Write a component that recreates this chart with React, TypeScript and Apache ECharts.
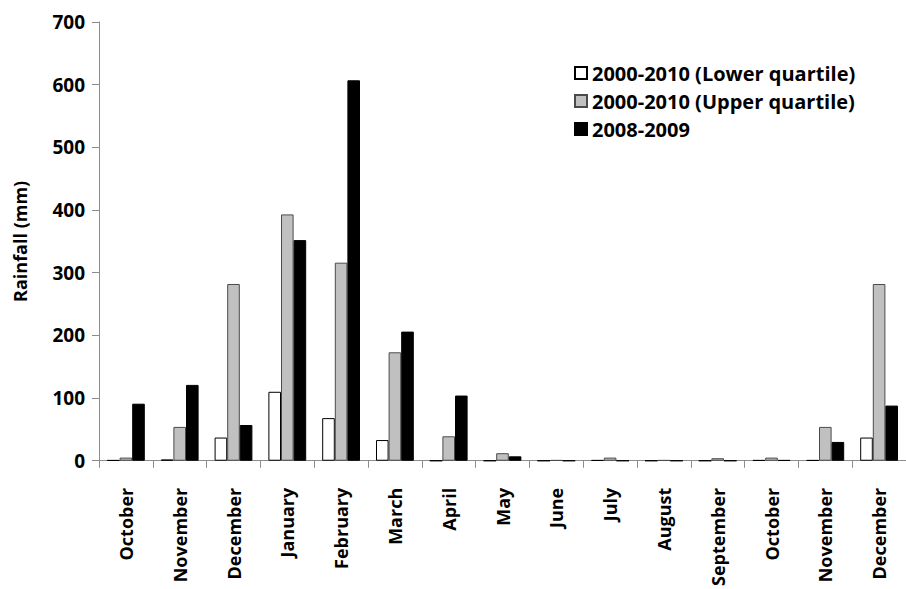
import React, { useEffect, useRef } from "react";
import * as echarts from "echarts";

const months = [
  "October", "November", "December", "January", "February", "March", "April",
  "May", "June", "July", "August", "September", "October", "November", "December",
];
const lowerQuartile = [1, 2, 37, 110, 68, 33, 0, 0, 0, 1, 0, 0, 1, 1, 37];
const upperQuartile = [5, 54, 282, 393, 316, 173, 39, 12, 1, 5, 1, 4, 5, 54, 282];
const season2008 = [91, 121, 57, 352, 607, 206, 104, 7, 0, 0, 0, 0, 1, 30, 88];
const seriesNames = [
  "2000-2010 (Lower quartile)",
  "2000-2010 (Upper quartile)",
  "2008-2009",
];
const yTicks = { min: 0, max: 700, interval: 100 };

const FONT = "'Open Sans', 'DejaVu Sans', sans-serif";

export default function App() {
  const ref = useRef<HTMLDivElement>(null);
  useEffect(() => {
    if (!ref.current) return;
    const chart = echarts.init(ref.current, undefined, { renderer: "svg" });
    const mk = (name: string, data: number[], color: string, border: string) => ({
      name,
      type: "bar",
      data,
      barWidth: 12.6,
      barGap: "0%",
      itemStyle: { color, borderColor: border, borderWidth: 1 },
    });
    chart.setOption({
      animation: false,
      backgroundColor: "#ffffff",
      grid: { left: 99, right: -9, top: 22, bottom: 122, containLabel: false },
      legend: {
        orient: "vertical",
        left: 569,
        top: 58,
        itemWidth: 12,
        itemHeight: 12,
        itemGap: 8,
        icon: "rect",
        textStyle: { fontFamily: FONT, fontWeight: "bold", fontSize: 20, color: "#000" },
        data: seriesNames,
      },
      xAxis: {
        type: "category",
        data: months,
        axisLine: { lineStyle: { color: "#8c8c8c", width: 1 } },
        axisTick: { show: true, length: 7, lineStyle: { color: "#8c8c8c" } },
        axisLabel: {
          interval: 0,
          rotate: 90,
          margin: 27,
          fontFamily: FONT,
          fontWeight: "bold",
          fontSize: 18,
          color: "#000",
        },
      },
      yAxis: {
        type: "value",
        min: yTicks.min,
        max: yTicks.max,
        interval: yTicks.interval,
        name: "Rainfall (mm)",
        nameLocation: "middle",
        nameGap: 70,
        nameTextStyle: { fontFamily: FONT, fontWeight: "bold", fontSize: 18, color: "#000" },
        splitLine: { show: false },
        axisLine: { show: true, lineStyle: { color: "#8c8c8c", width: 1 } },
        axisTick: { show: true, length: 7, lineStyle: { color: "#8c8c8c" } },
        axisLabel: {
          margin: 14,
          fontFamily: FONT,
          fontWeight: "bold",
          fontSize: 19,
          color: "#000",
        },
      },
      series: [
        mk(seriesNames[0], lowerQuartile, "#ffffff", "#000000"),
        mk(seriesNames[1], upperQuartile, "#c0c0c0", "#4a4a4a"),
        mk(seriesNames[2], season2008, "#000000", "#000000"),
      ],
    });
    return () => chart.dispose();
  }, []);
  return (
    <div
      ref={ref}
      style={{ position: "absolute", left: 0, top: 0, width: 906, height: 589, background: "#fff" }}
    />
  );
}
